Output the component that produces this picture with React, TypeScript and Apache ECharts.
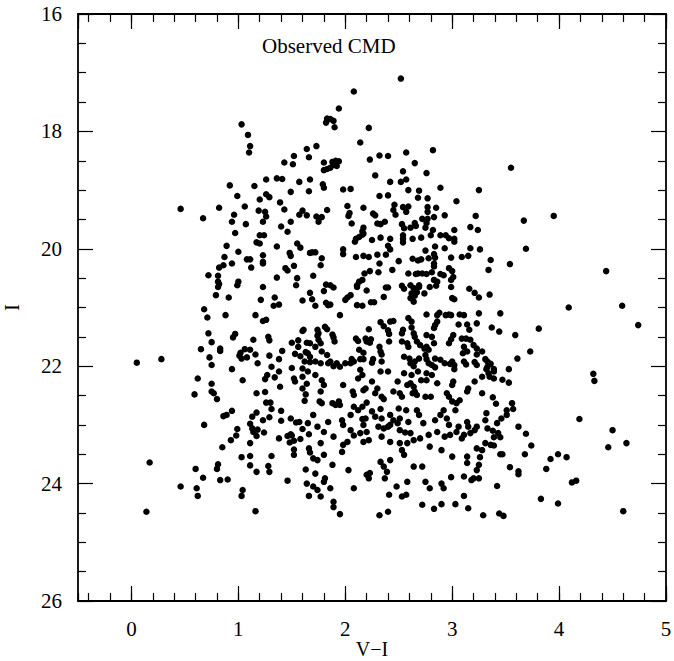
import React, { useEffect, useRef } from "react";
import * as echarts from "echarts";

// Colour–magnitude diagram: each point is [V−I, I]
const xRange = [-0.5, 5];
const yRange = [16, 26];
const yTickStep = 2;
const titleText = "Observed CMD";
const xName = "V\u2212I";
const yName = "I";

const brightStars: number[][] = [
  [1.03,17.88],[1.09,18.06],[1.11,18.25],[1.10,18.36],[1.43,18.53],[1.52,18.42],[1.51,18.56],[1.64,18.30],[1.66,18.44],[1.26,18.82],[1.36,18.80],[1.41,18.81],[1.57,18.86],[1.67,18.82],[0.92,18.92],[1.15,18.93],[0.99,19.10],[1.20,19.16],[1.26,19.07],[1.29,19.12],[1.49,19.03],[1.66,19.02],[0.46,19.32],[0.67,19.48],[0.82,19.30],[1.06,19.28],[0.96,19.42],[0.94,19.54],[1.07,19.58],[1.19,19.35],[1.25,19.37],[1.26,19.45],[1.23,19.54],[1.39,19.21],[1.43,19.33],[1.49,19.54],[1.57,19.42],[1.60,19.35],[1.64,19.43],
  [2.52,17.10],[2.08,17.32],[1.94,17.61],[1.83,17.78],[1.86,17.79],[1.89,17.82],[1.82,17.85],[1.90,17.93],[2.22,17.94],[2.14,18.19],[1.73,18.25],[1.80,18.53],[1.88,18.52],[1.91,18.50],[1.94,18.51],[1.89,18.57],[1.92,18.59],[1.86,18.62],[1.80,18.66],[1.83,18.64],[2.23,18.48],[2.32,18.41],[2.40,18.42],[2.57,18.36],[2.82,18.32],[2.65,18.54],[2.54,18.68],[2.76,18.71],[2.28,18.75],[2.42,18.86],[2.52,18.86],[2.57,18.82],[1.79,18.90],[1.80,18.96],[1.98,18.99],[2.05,18.98],[2.32,19.10],[2.40,19.09],[2.59,19.00],[2.69,19.01],[2.68,19.13],[2.77,19.14],[2.89,18.96],[3.04,19.19],[3.25,19.00],[2.02,19.27],[2.04,19.39],[2.03,19.44],[2.17,19.30],[2.26,19.40],[2.28,19.43],[2.46,19.25],[2.45,19.34],[2.47,19.42],[2.54,19.29],[2.59,19.28],[2.57,19.37],[2.77,19.29],[2.77,19.37],[2.85,19.30],[2.93,19.43],[2.83,19.46],[2.72,19.49],[2.77,19.49],[3.22,19.44],[1.83,19.34],[1.73,19.45],[1.78,19.46],[1.75,19.54],[2.06,19.57],[2.30,19.57],[2.37,19.54],[2.65,19.56],[2.76,19.56],
  [3.55,18.62],[3.67,19.52],[3.95,19.44]
];

const blueMidStars: number[][] = [
  [1.40,19.62],[1.46,19.71],[0.97,19.73],[1.20,19.77],[1.24,19.77],[0.89,19.95],[1.00,20.05],[1.17,19.89],[1.20,19.91],[1.36,19.96],[1.55,19.91],[1.58,19.98],[1.48,20.07],[1.49,20.12],[1.67,20.07],[0.87,20.14],[1.08,20.18],[1.11,20.18],[1.23,20.11],[1.23,20.22],[1.23,20.25],[0.94,20.25],[0.82,20.32],[0.86,20.28],[1.12,20.32],[1.44,20.33],[1.46,20.37],[1.52,20.29],[0.72,20.45],[0.81,20.46],[0.81,20.56],[0.82,20.60],[0.81,20.65],[1.00,20.56],[0.99,20.62],[1.36,20.49],[1.55,20.50],[1.54,20.62],[1.23,20.65],[1.67,20.75],[0.79,20.79],[0.91,20.83],[1.21,20.87],[1.34,20.83],[1.60,20.88],[1.33,20.97],[1.38,20.95],[0.68,21.03],[0.71,21.17],[0.88,21.13],[1.16,21.13],[1.23,21.23],[1.26,21.21],[0.72,21.44],[0.97,21.45],[0.95,21.51],[0.75,21.59],[0.65,21.71],[0.83,21.70],[0.83,21.74],[1.14,21.55],[1.28,21.50],[1.29,21.56],[1.02,21.77],[1.01,21.82],[1.06,21.71],[1.11,21.72],[1.03,21.87],[1.08,21.85],[1.16,21.80],[1.29,21.82],[1.41,21.74],[1.38,21.88],[1.50,21.60],[1.56,21.56],[1.60,21.40],[1.56,21.67],[1.64,21.60],[1.53,21.79],[1.58,21.83],[1.63,21.76],[1.62,21.92],[0.73,21.85],[0.75,21.98],[1.18,21.95],[1.31,22.01],[1.50,22.03],[1.60,22.04],[0.05,21.94],[0.28,21.88],[0.94,22.05]
];

const redMidStars: number[][] = [
  [2.33,19.58],[2.17,19.64],[2.16,19.70],[2.53,19.58],[2.55,19.65],[2.61,19.64],[2.66,19.61],[2.75,19.64],[2.82,19.68],[3.02,19.68],[3.17,19.63],[3.24,19.68],[2.10,19.83],[2.09,19.88],[2.13,19.80],[2.16,19.76],[2.17,19.74],[2.25,19.85],[2.33,19.81],[2.42,19.83],[2.54,19.77],[2.54,19.83],[2.54,19.89],[2.63,19.83],[2.71,19.81],[2.80,19.77],[2.84,19.96],[2.89,19.77],[2.94,19.77],[2.97,19.82],[3.02,19.83],[3.02,19.88],[2.93,19.99],[3.17,19.99],[3.26,20.01],[1.69,20.06],[1.72,20.06],[1.78,20.16],[1.77,20.28],[1.70,20.46],[1.98,20.01],[1.98,20.09],[2.10,20.14],[2.17,20.12],[2.22,20.14],[2.30,20.10],[2.32,20.25],[2.40,19.95],[2.42,20.01],[2.38,20.10],[2.50,20.21],[2.63,20.17],[2.68,20.20],[2.71,20.18],[2.75,20.03],[2.78,20.16],[2.83,20.09],[2.84,20.15],[2.83,20.25],[2.83,20.30],[2.99,20.15],[3.09,20.14],[3.15,20.12],[2.97,20.33],[3.00,20.38],[3.01,20.48],[2.99,20.53],[2.89,20.43],[2.92,20.45],[2.81,20.40],[2.83,20.53],[2.86,20.56],[2.85,20.63],[2.76,20.43],[2.68,20.42],[2.72,20.42],[2.59,20.42],[2.66,20.43],[2.44,20.36],[2.31,20.40],[2.23,20.38],[2.18,20.42],[2.16,20.53],[2.13,20.56],[2.11,20.62],[2.11,20.65],[2.20,20.71],[2.38,20.66],[2.40,20.66],[2.53,20.63],[2.55,20.68],[2.61,20.62],[2.64,20.67],[2.69,20.65],[2.69,20.62],[2.67,20.74],[2.65,20.80],[2.62,20.76],[2.61,20.84],[2.64,20.90],[2.74,20.76],[2.79,20.65],[2.99,20.65],[3.00,20.84],[3.02,20.86],[3.16,20.68],[3.21,20.75],[3.25,20.83],[3.34,20.36],[3.35,20.78],[1.82,20.61],[1.86,20.62],[1.89,20.66],[1.69,20.86],[1.72,20.97],[1.80,20.72],[1.82,20.92],[1.84,20.96],[1.86,20.95],[2.00,20.87],[2.02,20.83],[2.05,20.79],[1.95,21.13],[2.11,20.96],[2.16,20.97],[2.24,20.91],[2.27,20.91],[2.36,20.82],[2.33,21.25],[2.36,21.32],[2.42,21.24],[2.45,21.23],[2.40,21.39],[2.41,21.45],[2.22,21.37],[2.19,21.53],[2.20,21.58],[2.10,21.53],[2.12,21.57],[2.23,21.60],[2.24,21.54],[2.17,21.77],[2.13,21.72],[2.06,21.88],[2.08,21.92],[2.14,21.88],[2.17,21.88],[2.26,21.88],[2.32,21.67],[2.33,21.75],[2.34,21.80],[2.34,21.92],[2.41,21.58],[2.54,21.38],[2.53,21.44],[2.53,21.58],[2.59,21.18],[2.62,21.24],[2.62,21.34],[2.64,21.44],[2.65,21.50],[2.67,21.58],[2.70,21.64],[2.74,21.70],[2.78,21.72],[2.76,21.67],[2.58,21.61],[2.59,21.67],[2.55,21.84],[2.60,21.87],[2.65,21.92],[2.69,21.87],[2.76,21.12],[2.86,21.13],[2.88,21.09],[2.86,21.24],[2.84,21.30],[2.83,21.35],[2.76,21.47],[2.81,21.50],[2.83,21.61],[2.75,21.81],[2.76,21.88],[2.78,21.95],[2.84,21.87],[2.89,21.89],[2.93,21.95],[2.99,21.54],[3.01,21.47],[2.97,21.61],[2.94,21.13],[2.97,21.12],[2.99,21.13],[3.07,21.12],[3.11,21.13],[3.06,21.29],[3.14,21.29],[3.23,21.27],[3.25,21.10],[3.16,21.38],[3.09,21.53],[3.13,21.53],[3.17,21.55],[3.11,21.67],[3.10,21.78],[3.20,21.64],[3.23,21.70],[3.23,21.80],[3.28,21.75],[3.21,21.93],[3.23,21.98],[3.31,21.88],[3.33,21.92],[3.11,21.92],[3.13,21.97],[3.00,21.92],[3.02,21.98],[3.14,21.75],[1.61,21.38],[1.74,21.38],[1.75,21.44],[1.74,21.48],[1.81,21.33],[1.83,21.37],[1.88,21.46],[1.89,21.51],[1.90,21.58],[1.67,21.61],[1.65,21.78],[1.67,21.84],[1.75,21.55],[1.77,21.61],[1.72,21.67],[1.78,21.75],[1.83,21.81],[1.86,21.92],[1.92,21.95],[1.67,21.93],[1.72,21.92],[1.77,21.95],[1.95,22.01],[2.00,21.95],
  [3.36,20.19],[3.69,20.00],[3.54,20.26],[4.44,20.38],[3.45,21.10],[4.09,21.00],[4.59,20.97],[4.74,21.30],[3.37,21.34],[3.44,21.41],[3.59,21.47],[3.81,21.36],[3.73,21.75],[3.61,21.87],[3.36,21.96],[3.33,22.01],[3.39,22.05],[3.53,22.05]
];

const blueFaintStars: number[][] = [
  [1.38,22.09],[1.52,22.21],[1.53,22.26],[1.65,22.09],[1.60,22.18],[1.64,22.30],[1.60,22.38],[1.63,22.48],[1.62,22.59],[1.27,22.15],[1.25,22.22],[1.34,22.19],[1.39,22.35],[1.04,22.24],[0.62,22.21],[0.75,22.30],[0.75,22.43],[0.77,22.46],[0.59,22.48],[0.80,22.56],[1.17,22.46],[1.25,22.44],[1.26,22.62],[1.30,22.62],[1.31,22.73],[1.40,22.76],[0.94,22.76],[0.86,22.85],[0.89,22.83],[1.13,22.86],[1.17,22.79],[1.29,22.87],[1.23,22.92],[1.40,22.93],[1.49,22.89],[1.54,22.96],[1.57,22.95],[1.65,22.97],[1.60,23.07],[0.68,23.00],[0.99,23.07],[0.98,23.18],[1.11,22.98],[1.13,23.06],[1.14,23.12],[1.18,23.08],[1.17,23.19],[1.24,23.13],[1.46,23.19],[1.49,23.16],[1.50,23.18],[1.38,23.23],[1.48,23.30],[1.52,23.27],[1.58,23.24],[1.66,23.16],[1.66,23.40],[1.67,23.47],[1.11,23.31],[0.93,23.26],[0.85,23.38],[1.52,23.42],[1.52,23.51],[1.31,23.53],[1.03,23.55],[1.11,23.53],[0.17,23.64],[0.60,23.75],[0.81,23.67],[0.80,23.75],[1.11,23.69],[1.17,23.80],[1.28,23.70],[1.29,23.80],[1.63,23.76],[0.67,23.90],[0.83,23.94],[0.90,23.93],[1.46,23.95],[1.64,24.00],[0.46,24.05],[0.61,24.08],[0.62,24.21],[1.04,24.11],[1.03,24.21],[1.66,24.21],[0.14,24.48],[1.16,24.47]
];

const redFaintStars: number[][] = [
  [1.84,21.95],[1.89,22.00],[2.05,21.95],[2.14,22.06],[2.16,22.15],[2.12,22.21],[2.25,21.94],[2.33,22.09],[2.40,22.09],[2.55,22.12],[2.61,21.95],[2.64,22.00],[2.62,22.15],[2.68,22.09],[2.81,21.98],[2.84,22.02],[2.76,22.12],[2.81,22.15],[2.98,21.96],[3.02,22.05],[3.32,22.05],[3.28,22.18],[3.34,22.12],[3.21,22.26],[3.15,22.38],[3.14,22.43],[3.28,22.46],[2.86,22.29],[2.76,22.24],[2.71,22.24],[2.95,22.46],[2.97,22.52],[3.00,22.32],[3.01,22.26],[3.04,22.63],[3.07,22.58],[2.75,22.52],[2.80,22.52],[2.58,22.32],[2.61,22.29],[2.64,22.35],[2.65,22.43],[2.63,22.46],[2.67,22.49],[2.49,22.26],[2.45,22.43],[2.51,22.46],[2.53,22.52],[2.30,22.38],[2.34,22.52],[2.36,22.56],[2.28,22.46],[2.25,22.26],[2.19,22.38],[2.17,22.41],[2.07,22.43],[2.08,22.49],[1.98,22.32],[1.78,22.24],[1.80,22.32],[1.77,22.43],[1.76,22.60],[1.78,22.63],[1.72,22.15],
  [1.88,22.63],[1.91,22.66],[1.94,22.60],[1.95,22.66],[2.08,22.69],[2.12,22.75],[2.16,22.69],[2.20,22.62],[2.16,22.90],[2.19,22.89],[2.17,23.00],[2.25,22.77],[2.28,22.86],[2.33,22.73],[2.34,22.89],[2.42,22.83],[2.45,22.92],[2.42,23.00],[2.50,22.72],[2.57,22.75],[2.51,22.89],[2.49,22.97],[2.59,22.95],[2.67,22.75],[2.69,22.83],[2.73,22.97],[2.84,22.92],[2.89,22.83],[2.92,22.75],[2.95,22.89],[2.97,23.00],[3.00,22.60],[3.03,22.75],[3.06,23.03],[3.14,22.95],[3.15,23.03],[3.23,23.03],[3.32,22.80],[3.31,22.92],[1.70,22.83],[1.74,23.03],[1.80,23.12],[1.84,22.95],[1.89,23.20],[1.97,22.92],[1.98,23.00],[2.05,22.83],[2.05,23.09],[2.08,23.18],[2.02,23.29],[1.98,23.34],[1.97,23.46],[2.14,23.14],[2.20,23.12],[2.22,23.26],[2.17,23.29],[2.31,23.03],[2.36,23.06],[2.40,23.03],[2.34,23.20],[2.42,23.29],[2.51,23.09],[2.56,23.13],[2.51,23.31],[2.53,23.43],[2.55,23.51],[2.61,23.14],[2.64,23.26],[2.58,23.31],[2.70,23.23],[2.78,23.17],[2.86,23.12],[2.79,23.37],[2.90,23.43],[2.93,23.20],[2.98,23.17],[3.04,23.12],[3.09,23.23],[3.11,23.17],[3.17,23.14],[3.21,23.09],[3.23,23.40],[3.28,23.43],[3.31,23.31],[3.00,23.54],[3.14,23.54],[3.14,23.65],[3.26,23.55],[3.25,23.68],[3.23,23.77],
  [1.72,23.83],[1.74,23.60],[1.70,23.57],[1.77,23.31],[1.80,23.51],[1.88,23.68],[1.81,23.91],[1.80,23.97],[1.70,24.05],[1.74,24.11],[1.77,24.22],[1.86,24.08],[1.89,24.31],[1.89,24.40],[1.95,24.52],[2.03,23.77],[2.08,24.08],[2.20,23.85],[2.22,23.91],[2.23,23.82],[2.36,23.71],[2.39,23.80],[2.37,23.91],[2.33,23.63],[2.42,23.60],[2.41,24.19],[2.40,24.48],[2.32,24.54],[2.48,24.05],[2.53,24.22],[2.57,24.19],[2.58,23.97],[2.64,23.71],[2.72,23.71],[2.75,23.97],[2.79,24.08],[2.72,24.36],[2.83,24.43],[2.90,24.35],[2.90,24.00],[2.92,24.08],[2.99,23.89],[3.03,24.35],[3.11,24.21],[3.11,23.88],[3.20,23.91],[3.25,23.91],[3.15,24.42],[3.29,24.54],[3.18,23.94]
];

const veryRedFaintStars: number[][] = [
  [3.39,22.09],[3.35,22.18],[3.39,22.21],[3.47,22.23],[3.53,22.28],[3.38,22.53],[3.41,22.64],[3.56,22.63],[3.57,22.73],[3.51,22.75],[3.51,22.83],[3.46,22.89],[3.42,22.97],[3.33,23.06],[3.38,23.10],[3.43,23.14],[3.45,23.21],[3.39,23.21],[3.36,23.34],[3.39,23.35],[3.45,23.50],[3.47,23.50],[3.62,23.03],[3.69,23.15],[3.74,23.35],[3.68,23.50],[3.54,23.72],[3.62,23.79],[3.62,23.84],[3.42,24.04],[3.44,24.51],[3.48,24.55],[3.83,24.26],[3.99,24.34],[3.88,23.75],[3.92,23.58],[3.99,23.50],[4.07,23.55],[4.12,23.98],[4.16,23.95],[4.19,22.90],[4.32,22.13],[4.33,22.25],[4.50,23.09],[4.46,23.38],[4.63,23.31],[4.60,24.47]
];

const FONT = "'Liberation Serif', 'DejaVu Serif', serif";
const BLACK = "#000";

function xAxisDef(position: "top" | "bottom", major: boolean, withLabels: boolean): any {
  return {
    type: "value",
    position,
    min: xRange[0],
    max: xRange[1],
    splitNumber: major ? 5 : 27,
    axisLine: { show: major, onZero: false, lineStyle: { color: BLACK, width: 1.8 } },
    axisTick: { show: true, inside: true, length: major ? 15 : 8, lineStyle: { color: BLACK, width: 1.2 } },
    axisLabel: {
      show: withLabels,
      showMinLabel: false,
      margin: 17,
      color: BLACK,
      fontFamily: FONT,
      fontSize: 21,
    },
    splitLine: { show: false },
    ...(withLabels
      ? {
          name: xName,
          nameLocation: "middle",
          nameGap: 38,
          nameMoveOverlap: false,
          nameTextStyle: { color: BLACK, fontFamily: FONT, fontSize: 20, verticalAlign: "top" },
        }
      : {}),
  };
}

function yAxisDef(position: "left" | "right", withLabels: boolean): any {
  return {
    type: "value",
    position,
    inverse: true,
    min: yRange[0],
    max: yRange[1],
    interval: yTickStep,
    axisLine: { show: true, onZero: false, lineStyle: { color: BLACK, width: 1.8 } },
    axisTick: { show: true, inside: true, length: 15, lineStyle: { color: BLACK, width: 1.2 } },
    minorTick: { show: true, splitNumber: 4, length: 8, lineStyle: { color: BLACK, width: 1.2 } },
    axisLabel: {
      show: withLabels,
      margin: 16,
      color: BLACK,
      fontFamily: FONT,
      fontSize: 21,
    },
    splitLine: { show: false },
    minorSplitLine: { show: false },
    ...(withLabels
      ? {
          name: yName,
          nameLocation: "middle",
          nameRotate: 90,
          nameGap: 56,
          nameMoveOverlap: false,
          nameTextStyle: { color: BLACK, fontFamily: FONT, fontSize: 21 },
        }
      : {}),
  };
}

export default function App() {
  const ref = useRef<HTMLDivElement>(null);
  useEffect(() => {
    if (!ref.current) return;
    const chart = echarts.init(ref.current, undefined, { renderer: "svg" });
    const allStars = [
      ...brightStars,
      ...blueMidStars,
      ...redMidStars,
      ...blueFaintStars,
      ...redFaintStars,
      ...veryRedFaintStars,
    ];
    chart.setOption({
      animation: false,
      backgroundColor: "#fff",
      grid: { left: 78, right: 8, top: 14, bottom: 60, containLabel: false, outerBoundsMode: "none" },
      xAxis: [
        xAxisDef("bottom", true, true),
        xAxisDef("bottom", false, false),
        xAxisDef("top", true, false),
        xAxisDef("top", false, false),
      ],
      yAxis: [yAxisDef("left", true), yAxisDef("right", false)],
      graphic: [
        {
          type: "text",
          left: 262,
          top: 35,
          style: { text: titleText, fill: BLACK, font: `21px ${FONT}` },
        },
      ],
      series: [
        {
          type: "scatter",
          xAxisIndex: 0,
          yAxisIndex: 0,
          symbol: "circle",
          symbolSize: 6.5,
          itemStyle: { color: BLACK, opacity: 1 },
          silent: true,
          data: allStars,
        },
      ],
    });
    return () => chart.dispose();
  }, []);
  return (
    <div
      ref={ref}
      style={{ position: "absolute", left: 0, top: 0, width: 674, height: 661 }}
    />
  );
}
